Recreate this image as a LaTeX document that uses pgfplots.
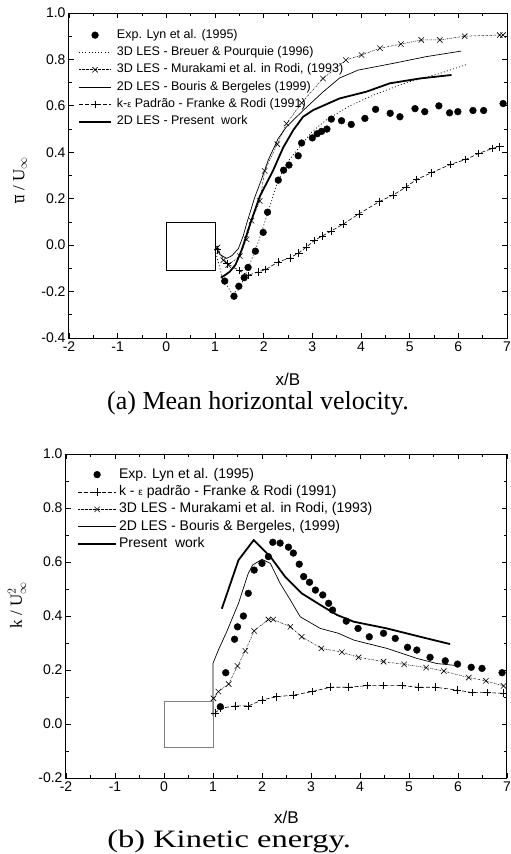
\documentclass[border=0pt]{standalone}
\usepackage{pgfplots}
\pgfplotsset{compat=1.18}
\usepackage{fontspec}
\setmainfont{Liberation Sans}
\newfontfamily\seriffont{Liberation Serif}

\pgfplotsset{
  panel/.style={
    scale only axis,
    xmin=-2, xmax=7,
    xtick={-2,-1,0,1,2,3,4,5,6,7},
    minor x tick num=1, minor y tick num=1,
    tick align=inside, tick pos=both,
    major tick length=5pt, minor tick length=3pt,
    axis line style={line width=1pt},
    every tick/.style={black, line width=0.8pt},
    tick label style={font=\fontsize{14}{14}\selectfont},
    /pgf/number format/assume math mode=true,
    yticklabel style={/pgf/number format/.cd, fixed, fixed zerofill, precision=1},
    xlabel={x/B},
    xlabel style={font=\fontsize{17}{17}\selectfont, at={(axis description cs:0.5,0)}, anchor=center},
    legend cell align=left,
    clip=false,
  },
  leg/.style={legend image code/.code={%
    \draw[mark repeat=2, mark phase=2, ##1] plot coordinates {(0pt,0pt) (#1,0pt) (2*#1,0pt)};}},
  expdots/.style={only marks, mark=*, mark size=3.4pt, black},
}

\begin{document}
\begin{tikzpicture}
\path[use as bounding box] (0,0) rectangle (511pt,-854pt);

%% (a) mean horizontal velocity
\begin{axis}[panel,
  at={(69pt,-338pt)}, anchor=south west,
  width=438pt, height=325pt,
  ymin=-0.4, ymax=1.0,
  ytick={-0.4,-0.2,0,0.2,0.4,0.6,0.8,1.0},
  xlabel style={yshift=-41pt},
  ylabel={\seriffont$\overline{\hbox{u}}$ / U$_\infty$},
  ylabel style={font=\fontsize{17}{17}\selectfont, at={(axis description cs:-0.112,0.486)}, anchor=center},
  legend style={at={(0.0205,0.951)}, anchor=north west, draw=none, fill=none,
    inner sep=0pt, row sep=5.3pt, column sep=5pt,
    font=\fontsize{12.5}{12.5}\selectfont,
    nodes={inner sep=0pt, text height=9pt, text depth=3pt}},
]
\addplot[expdots, leg=16pt] coordinates {
(1.20,-0.155)(1.39,-0.22)(1.49,-0.177)(1.60,-0.14)(1.68,-0.096)(1.83,-0.026)
(1.99,0.055)(2.08,0.142)(2.30,0.28)(2.41,0.323)(2.52,0.345)(2.71,0.385)
(2.78,0.44)(3.00,0.462)(3.10,0.48)(3.19,0.49)(3.30,0.50)(3.39,0.543)
(3.60,0.536)(3.80,0.52)(4.08,0.546)(4.30,0.585)(4.60,0.568)(4.80,0.553)
(5.11,0.588)(5.31,0.575)(5.60,0.60)(5.82,0.57)(5.99,0.575)(6.30,0.58)
(6.52,0.58)(6.92,0.61)};
\addlegendentry{Exp. Lyn et al. (1995)}

\addplot[black, line width=0.7pt, dash pattern=on 1pt off 2.2pt, leg=16pt] coordinates {
(1.0,-0.02)(1.15,-0.14)(1.35,-0.21)(1.5,-0.19)(1.7,-0.09)(1.9,0.02)(2.1,0.15)
(2.3,0.28)(2.5,0.36)(2.74,0.424)(3.0,0.49)(3.29,0.54)(3.77,0.60)(4.25,0.646)
(4.93,0.70)(5.62,0.74)(6.2,0.78)};
\addlegendentry{3D LES - Breuer \& Pourquie (1996)}

\addplot[black, line width=0.5pt, dash pattern=on 1.5pt off 1pt on 0.5pt off 1pt,
  mark=x, mark size=3.8pt, mark options={solid, line width=0.6pt}, leg=16pt] coordinates {
(1.05,-0.01)(1.17,-0.065)(1.27,-0.086)(1.51,-0.047)(1.65,0.025)(1.75,0.105)
(1.92,0.19)(2.02,0.32)(2.28,0.435)(2.47,0.524)(2.78,0.613)(3.22,0.718)
(3.69,0.797)(4.01,0.819)(4.39,0.848)(4.82,0.866)(5.24,0.884)(5.62,0.884)
(6.13,0.90)(6.85,0.905)(6.92,0.905)};
\addlegendentry{3D LES - Murakami et al. in Rodi, (1993)}

\addplot[black, line width=0.7pt, leg=16pt] coordinates {
(1.02,-0.01)(1.1,-0.04)(1.24,-0.057)(1.35,-0.045)(1.48,-0.015)(1.58,0.04)
(1.65,0.093)(1.82,0.208)(1.95,0.28)(2.1,0.37)(2.3,0.46)(2.47,0.51)(2.81,0.58)
(3.22,0.66)(3.56,0.72)(3.94,0.754)(4.66,0.783)(5.34,0.812)(6.06,0.836)};
\addlegendentry{2D LES - Bouris \& Bergeles (1999)}

\addplot[black, line width=0.6pt, dash pattern=on 4pt off 2pt,
  mark=+, mark size=3.8pt, mark options={solid, line width=0.6pt}, leg=16pt] coordinates {
(1.05,-0.02)(1.25,-0.08)(1.5,-0.11)(1.68,-0.13)(1.89,-0.115)(2.04,-0.105)
(2.30,-0.072)(2.54,-0.055)(2.72,-0.033)(2.88,-0.008)(3.04,0.02)(3.21,0.04)
(3.38,0.06)(3.63,0.09)(3.96,0.135)(4.37,0.187)(4.66,0.216)(4.93,0.251)
(5.14,0.283)(5.45,0.312)(5.84,0.348)(6.15,0.369)(6.42,0.395)(6.70,0.417)(6.85,0.424)};
\addlegendentry{k-{\fontsize{9}{9}\selectfont ε} Padrão - Franke \& Rodi (1991)}

\addplot[black, line width=1.8pt, leg=16pt] coordinates {
(1.12,-0.14)(1.2,-0.13)(1.3,-0.115)(1.42,-0.085)(1.55,-0.02)(1.72,0.09)
(1.92,0.21)(2.19,0.32)(2.4,0.42)(2.61,0.496)(2.81,0.553)(3.02,0.582)
(3.56,0.632)(4.11,0.661)(4.59,0.697)(5.21,0.718)(5.86,0.733)};
\addlegendentry{2D LES - Present\ \ work}

%% body
\addplot[black, line width=0.7pt, forget plot] coordinates {(0,-0.11)(1,-0.11)(1,0.1)(0,0.1)(0,-0.11)};
\end{axis}

%% (b) kinetic energy
\begin{axis}[panel,
  at={(66pt,-778pt)}, anchor=south west,
  width=441pt, height=324pt,
  ymin=-0.2, ymax=1.0,
  ytick={-0.2,0,0.2,0.4,0.6,0.8,1.0},
  xlabel style={yshift=-39pt},
  ylabel={\seriffont k / U$_\infty^2$},
  ylabel style={font=\fontsize{17}{17}\selectfont, at={(axis description cs:-0.111,0.534)}, anchor=center},
  legend style={at={(0.025,0.957)}, anchor=north west, draw=none, fill=none,
    inner sep=0pt, row sep=4.4pt, column sep=2pt,
    font=\fontsize{14}{14}\selectfont,
    nodes={inner sep=0pt, text height=10pt, text depth=3pt}},
]
\addplot[expdots, leg=19pt] coordinates {
(1.15,0.064)(1.26,0.19)(1.44,0.314)(1.50,0.36)(1.62,0.40)(1.72,0.484)
(1.84,0.57)(2.0,0.595)(2.13,0.62)(2.22,0.673)(2.37,0.67)(2.54,0.655)
(2.64,0.633)(2.76,0.592)(2.85,0.546)(2.97,0.525)(3.09,0.496)(3.24,0.478)
(3.36,0.447)(3.44,0.422)(3.72,0.381)(3.96,0.354)(4.19,0.323)(4.48,0.336)
(4.72,0.317)(4.97,0.284)(5.16,0.274)(5.43,0.247)(5.74,0.234)(5.99,0.222)
(6.27,0.21)(6.49,0.206)(6.90,0.19)};
\addlegendentry{Exp. Lyn et al. (1995)}

\addplot[black, line width=0.6pt, dash pattern=on 4pt off 2pt,
  mark=+, mark size=3.8pt, mark options={solid, line width=0.6pt}, leg=19pt] coordinates {
(1.04,0.04)(1.15,0.058)(1.45,0.067)(1.72,0.067)(2.0,0.089)(2.30,0.101)
(2.64,0.107)(3.02,0.12)(3.39,0.136)(3.77,0.136)(4.14,0.142)(4.48,0.142)
(4.86,0.142)(5.20,0.136)(5.54,0.136)(5.98,0.126)(6.29,0.116)(6.59,0.116)(6.93,0.114)};
\addlegendentry{k - {\fontsize{10}{10}\selectfont ε} padrão - Franke \& Rodi (1991)}

\addplot[black, line width=0.5pt, dash pattern=on 1.5pt off 1pt on 0.5pt off 1pt,
  mark=x, mark size=3.8pt, mark options={solid, line width=0.6pt}, leg=19pt] coordinates {
(1.01,0.095)(1.11,0.12)(1.32,0.148)(1.50,0.215)(1.66,0.271)(1.84,0.345)
(2.13,0.387)(2.23,0.387)(2.58,0.36)(2.81,0.323)(3.21,0.28)(3.63,0.266)
(3.97,0.247)(4.48,0.231)(4.90,0.221)(5.35,0.209)(5.71,0.196)(6.22,0.172)
(6.57,0.16)(6.93,0.141)};
\addlegendentry{3D LES - Murakami et al. in Rodi, (1993)}

\addplot[black, line width=0.7pt, leg=19pt] coordinates {
(1.0,0.03)(1.0,0.225)(1.11,0.274)(1.28,0.342)(1.52,0.447)(1.72,0.558)
(1.81,0.589)(2.0,0.61)(2.17,0.595)(2.37,0.521)(2.58,0.459)(2.78,0.397)
(3.19,0.354)(3.56,0.336)(3.87,0.311)(4.55,0.28)(5.16,0.243)(5.57,0.224)(6.05,0.215)};
\addlegendentry{2D LES - Bouris \& Bergeles, (1999)}

\addplot[black, line width=1.8pt, leg=19pt] coordinates {
(1.18,0.427)(1.52,0.607)(1.83,0.681)(2.17,0.62)(2.47,0.546)(2.81,0.484)
(3.19,0.441)(3.53,0.404)(3.87,0.379)(4.55,0.354)(5.23,0.323)(5.84,0.296)};
\addlegendentry{Present\ \ work}

\addplot[gray, line width=0.8pt, forget plot] coordinates {(0,-0.085)(1,-0.085)(1,0.083)(0,0.083)(0,-0.085)};
\end{axis}

\node[anchor=west, inner sep=0pt, font=\seriffont\fontsize{26}{26}\selectfont] at (107pt,-403pt) {(a) Mean horizontal velocity.};
\node[anchor=west, inner sep=0pt, xscale=1.3, font=\seriffont\fontsize{25}{25}\selectfont] at (107pt,-842pt) {(b) Kinetic energy.};
\end{tikzpicture}
\end{document}
